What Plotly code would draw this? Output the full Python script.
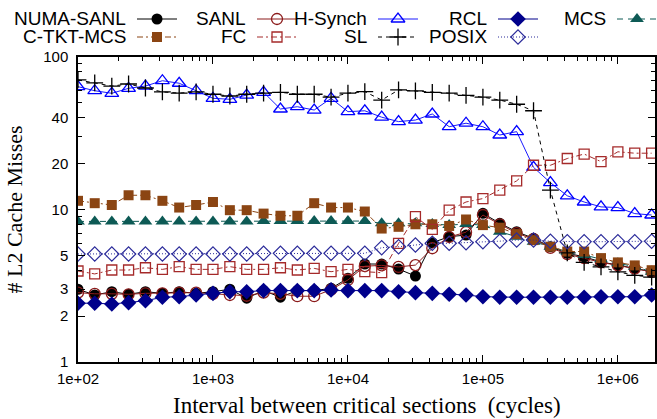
import plotly.graph_objects as go

# Interval between critical sections (cycles), 8 samples per decade
intervals = [100, 133, 178, 237, 316, 422, 562, 750,
             1000, 1334, 1778, 2371, 3162, 4217, 5623, 7499,
             10000, 13335, 17783, 23714, 31623, 42170, 56234, 74989,
             100000, 133352, 177828, 237137, 316228, 421697, 562341, 749894,
             1000000, 1333521, 1778279]

# L2 cache misses per lock implementation
numa_sanl = [3.0, 2.75, 2.89, 2.78, 2.89, 2.82, 2.89, 2.82, 2.89, 3.0, 2.62, 2.94,
             2.66, 2.94, 2.94, 3.04, 3.54, 4.39, 4.39, 4.07, 3.66, 6.06, 6.63, 6.8,
             9.44, 8.12, 7.15, 6.47, 5.7, 5.16, 4.9, 4.53, 4.32, 4.11, 3.91]
sanl = [2.85, 2.8, 2.8, 2.78, 2.82, 2.82, 2.85, 2.85, 2.8, 2.75, 2.72, 2.85,
        2.8, 2.7, 2.7, 2.98, 3.45, 4.25, 4.3, 4.2, 4.32, 5.57, 6.6, 7.1,
        9.2, 8.0, 7.0, 6.4, 5.6, 5.1, 4.8, 4.5, 4.3, 4.1, 3.9]
h_synch = [63.9, 60.1, 57.8, 62.3, 64.5, 69.9, 67.3, 60.1, 53.6, 52.8, 56.3, 58.7,
           45.6, 47.2, 44.9, 53.6, 43.8, 44.4, 40.3, 37.7, 38.6, 42.3, 34.9, 36.8,
           34.9, 30.8, 32.4, 18.9, 15.0, 12.3, 11.2, 10.4, 10.3, 9.4, 9.2]
rcl = [2.43, 2.43, 2.40, 2.45, 2.52, 2.66, 2.68, 2.75, 2.82, 2.89, 2.89, 2.94,
       2.94, 2.94, 2.94, 2.97, 2.94, 2.94, 2.94, 2.89, 2.85, 2.82, 2.78, 2.75,
       2.68, 2.66, 2.66, 2.66, 2.66, 2.66, 2.66, 2.68, 2.68, 2.68, 2.75]
mcs = [8.35, 8.35, 8.35, 8.35, 8.35, 8.35, 8.35, 8.35, 8.35, 8.35, 8.35, 8.4,
       8.4, 8.4, 8.4, 8.4, 8.4, 8.4, 8.12, 8.12, 8.12, 8.03, 7.9, 8.03,
       7.9, 7.15, 6.63, 6.15, 5.7, 5.29, 5.03, 4.71, 4.44, 4.22, 3.91]
c_tkt_mcs = [11.4, 11.0, 10.7, 12.4, 12.4, 11.4, 10.3, 10.7, 11.2, 9.9, 9.9, 9.4,
             9.1, 9.1, 11.0, 10.3, 10.3, 9.7, 7.5, 7.7, 8.0, 8.0, 7.8, 8.6,
             7.9, 7.6, 6.9, 6.3, 5.7, 5.3, 5.3, 4.8, 4.5, 4.3, 4.0]
fc = [3.95, 3.78, 4.01, 4.01, 4.15, 4.05, 4.22, 4.05, 4.05, 4.22, 4.05, 4.05,
      4.15, 4.01, 4.11, 3.91, 4.05, 3.91, 3.85, 6.0, 8.97, 7.4, 9.9, 11.2,
      11.8, 13.4, 15.4, 19.5, 19.5, 21.6, 23.1, 20.6, 23.9, 23.4, 23.4]
sl = [70.7, 67.6, 64.5, 66.5, 62.6, 59.0, 58.0, 59.0, 57.0, 55.5, 57.0, 58.0,
      58.7, 57.0, 57.0, 54.5, 57.9, 59.3, 52.2, 60.8, 60.0, 58.7, 57.9, 56.0,
      54.5, 52.2, 49.0, 44.4, 13.4, 5.2, 4.5, 4.2, 3.9, 3.7, 3.6]
posix = [5.11, 5.11, 5.11, 5.11, 5.11, 5.11, 5.11, 5.11, 5.11, 5.11, 5.11, 5.16,
         5.16, 5.16, 5.16, 5.16, 5.16, 5.16, 5.62, 5.7, 5.85, 6.0, 6.0, 6.05,
         6.15, 6.2, 6.3, 6.3, 6.2, 6.15, 6.15, 6.15, 6.15, 6.15, 6.2]

# Axis ticks
x_tick_vals = [1e2, 1e3, 1e4, 1e5, 1e6]
x_tick_text = ["1e+02", "1e+03", "1e+04", "1e+05", "1e+06"]
y_tick_vals = [1, 2, 3, 5, 10, 20, 40, 100]
y_tick_text = ["1", "2", "3", "5", "10", "20", "40", "100"]

x_minor = [m * 10 ** d for d in range(2, 7) for m in range(2, 10)]
y_minor = [4, 6, 7, 8, 9, 30, 50, 60, 70, 80, 90]

# Figure geometry (pixels)
W, H = 657, 419
PL, PR, PT, PB = 78, 655, 57, 362

SANS = "Liberation Sans, Arial, sans-serif"
SERIF = "Liberation Serif, Times New Roman, serif"

series = [
    dict(name="NUMA-SANL", y=numa_sanl, color="#000000", line="#000000",
         symbol="circle", size=11, dash="solid", mlw=0),
    dict(name="SANL", y=sanl, color="#8b1a1a", line="#8b1a1a",
         symbol="circle-open", size=11, dash="solid", mlw=1.3),
    dict(name="H-Synch", y=h_synch, color="#0000ff", line="#1a1aff",
         symbol="triangle-up-open", size=12, dash="solid", mlw=1.3),
    dict(name="RCL", y=rcl, color="#00008b", line="#00008b",
         symbol="diamond", size=12, dash="solid", mlw=0),
    dict(name="MCS", y=mcs, color="#0d5a55", line="#0d5a55",
         symbol="triangle-up", size=12, dash="6px,5px", mlw=0),
    dict(name="C-TKT-MCS", y=c_tkt_mcs, color="#8b4513", line="#8b4513",
         symbol="square", size=10, dash="6px,3px,2px,3px", mlw=0),
    dict(name="FC", y=fc, color="#a52a2a", line="#a52a2a",
         symbol="square-open", size=10, dash="6px,3px,2px,3px", mlw=1.3),
    dict(name="SL", y=sl, color="#000000", line="#000000",
         symbol="cross-thin-open", size=12, dash="4px,4px", mlw=1.3),
    dict(name="POSIX", y=posix, color="#2b2b9a", line="#2b2b9a",
         symbol="diamond-open", size=11, dash="1px,2px", mlw=1.2),
]

fig = go.Figure()

for s in series:
    fig.add_trace(go.Scatter(
        x=intervals, y=s["y"], mode="lines+markers", name=s["name"],
        line=dict(color=s["line"], width=1, dash=s["dash"]),
        marker=dict(symbol=s["symbol"], size=s["size"], color=s["color"],
                    line=dict(color=s["color"], width=s["mlw"])),
        showlegend=False, xaxis="x", yaxis="y",
    ))

# Key: two rows, label right-aligned followed by a line sample with its marker
col_text_end = [128, 248, 369, 489, 608]
row_y = [19, 37]
annotations = []
for k, s in enumerate(series):
    row, col = divmod(k, 5)
    xe, yy = col_text_end[col], row_y[row]
    fig.add_trace(go.Scatter(
        x=[xe + 9, xe + 49], y=[yy, yy], mode="lines",
        line=dict(color=s["line"], width=1, dash=s["dash"]),
        showlegend=False, hoverinfo="skip", xaxis="x2", yaxis="y2",
    ))
    fig.add_trace(go.Scatter(
        x=[xe + 29], y=[yy], mode="markers",
        marker=dict(symbol=s["symbol"], size=s["size"], color=s["color"],
                    line=dict(color=s["color"], width=s["mlw"])),
        showlegend=False, hoverinfo="skip", xaxis="x2", yaxis="y2",
    ))
    annotations.append(dict(
        text=s["name"], xref="paper", yref="paper", x=xe / W, y=1 - yy / H,
        xanchor="right", yanchor="middle", showarrow=False,
        font=dict(family=SANS, size=19, color="black"),
    ))

annotations.append(dict(
    text="Interval between critical sections \u00a0(cycles)",
    xref="paper", yref="paper", x=(PL + PR) / 2 / W, y=1 - 405 / H,
    xanchor="center", yanchor="middle", showarrow=False,
    font=dict(family=SERIF, size=23, color="black"),
))
annotations.append(dict(
    text="# L2 Cache Misses", textangle=-90,
    xref="paper", yref="paper", x=14 / W, y=1 - 209.5 / H,
    xanchor="center", yanchor="middle", showarrow=False,
    font=dict(family=SERIF, size=22, color="black"),
))

axis_common = dict(
    showline=True, linecolor="black", linewidth=1.5, mirror="allticks",
    ticks="inside", ticklen=7, tickwidth=1, tickcolor="black",
    showgrid=False, zeroline=False, automargin=False,
    tickfont=dict(family=SANS, size=15, color="black"),
)

fig.update_layout(
    template="none",
    width=W, height=H,
    margin=dict(l=0, r=0, t=0, b=0, pad=0, autoexpand=False),
    paper_bgcolor="white", plot_bgcolor="rgba(0,0,0,0)",
    showlegend=False,
    xaxis=dict(type="log", domain=[PL / W, PR / W], range=[2, 6.275],
               tickvals=x_tick_vals, ticktext=x_tick_text, anchor="y",
               ticklabelstandoff=2,
               minor=dict(tickvals=x_minor, ticks="inside", ticklen=4,
                          tickwidth=1, tickcolor="black", showgrid=False),
               **axis_common),
    yaxis=dict(type="log", domain=[1 - PB / H, 1 - PT / H], range=[0, 2],
               tickvals=y_tick_vals, ticktext=y_tick_text, anchor="x",
               ticklabelstandoff=5,
               minor=dict(tickvals=y_minor, ticks="inside", ticklen=4,
                          tickwidth=1, tickcolor="black", showgrid=False),
               **axis_common),
    xaxis2=dict(domain=[0, 1], range=[0, W], visible=False, anchor="y2",
                fixedrange=True, automargin=False),
    yaxis2=dict(domain=[0, 1], range=[H, 0], visible=False, anchor="x2",
                fixedrange=True, automargin=False),
    annotations=annotations,
)

fig.write_html("out.html")
